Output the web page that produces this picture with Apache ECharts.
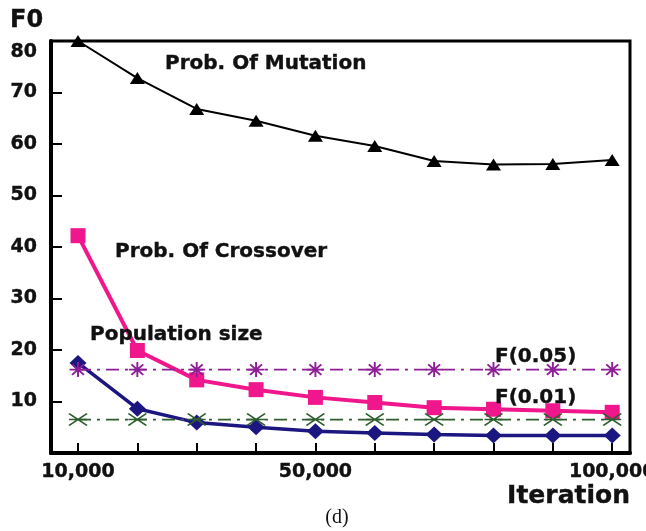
<!DOCTYPE html>
<html>
<head>
<meta charset="utf-8">
<script src="https://cdn.jsdelivr.net/npm/echarts@6/dist/echarts.min.js"></script>
<style>html,body{margin:0;padding:0;background:#fff;}#c{width:646px;height:531px;}</style>
</head>
<body>
<div id="c"></div>
<script>
const iterations = [10000, 20000, 30000, 40000, 50000, 60000, 70000, 80000, 90000, 100000];
const probMutation = [80.0, 72.8, 66.8, 64.5, 61.6, 59.6, 56.7, 56.0, 56.1, 56.9];
const probCrossover = [42.2, 19.9, 14.2, 12.3, 10.8, 9.8, 8.8, 8.5, 8.2, 7.9];
const populationSize = [17.5, 8.6, 5.9, 5.0, 4.2, 3.9, 3.6, 3.4, 3.4, 3.4];
const f005 = [16.2, 16.2, 16.2, 16.2, 16.2, 16.2, 16.2, 16.2, 16.2, 16.2];
const f001 = [6.5, 6.5, 6.5, 6.5, 6.5, 6.5, 6.5, 6.5, 6.5, 6.5];
const xTickValues = [10000, 20000, 30000, 40000, 50000, 60000, 70000, 80000, 90000, 100000];
const xLabelValues = [10000, 50000, 100000];
const yTickValues = [10, 20, 30, 40, 50, 60, 70, 80];

const pair = arr => iterations.map((x, i) => [x, arr[i]]);
const FONT = 'DejaVu Sans';
const txt = (text, x, y, size, extra) => ({
  type: 'text', x, y, z: 100,
  style: Object.assign({ text, font: 'bold ' + size + 'px "DejaVu Sans"', fill: '#111', stroke: '#111', lineWidth: 0.4, verticalAlign: 'middle' }, extra || {})
});

const chart = echarts.init(document.getElementById('c'));
chart.setOption({
  animation: false,
  backgroundColor: '#fff',
  grid: { left: 51, top: 41, right: 16, bottom: 78, outerBoundsMode: 'none', containLabel: false, show: true, borderColor: '#000', borderWidth: 3, backgroundColor: 'transparent' },
  xAxis: {
    type: 'value', min: 5450, max: 103000,
    splitLine: { show: false },
    axisLine: { show: true, lineStyle: { color: '#000', width: 4 } },
    axisTick: { show: true, inside: true, length: 10, lineStyle: { color: '#000', width: 2 }, customValues: xTickValues },
    axisLabel: {
      customValues: xLabelValues, margin: 10, color: '#111', fontFamily: FONT, fontWeight: 'bold', fontSize: 19,
      textBorderColor: '#111', textBorderWidth: 0.4,
      formatter: v => v.toLocaleString('en-US')
    }
  },
  yAxis: {
    type: 'value', min: 0, max: 80, interval: 10,
    splitLine: { show: false },
    axisLine: { show: true, lineStyle: { color: '#000', width: 4 } },
    axisTick: { show: true, inside: true, length: 11, lineStyle: { color: '#000', width: 2 }, customValues: yTickValues },
    axisLabel: {
      customValues: yTickValues, margin: 14, color: '#111', fontFamily: FONT, fontWeight: 'bold', fontSize: 19,
      textBorderColor: '#111', textBorderWidth: 0.4,
      formatter: v => v === 80 ? '{a|80}' : String(v),
      rich: { a: { fontFamily: FONT, fontWeight: 'bold', fontSize: 19, color: '#111', textBorderColor: '#111', textBorderWidth: 0.4, padding: [22, 0, 0, 0] } }
    }
  },
  series: [
    {
      name: 'Population size', type: 'line', data: pair(populationSize),
      symbol: 'diamond', symbolSize: [17, 16],
      lineStyle: { color: '#1c1680', width: 3.5 }, itemStyle: { color: '#1c1680' }
    },
    {
      name: 'Prob. Of Crossover', type: 'line', data: pair(probCrossover),
      symbol: 'rect', symbolSize: 15,
      lineStyle: { color: '#f0168c', width: 4 }, itemStyle: { color: '#f0168c' }
    },
    {
      name: 'Prob. Of Mutation', type: 'line', data: pair(probMutation),
      symbol: 'triangle', symbolSize: [15, 12],
      lineStyle: { color: '#000', width: 2 }, itemStyle: { color: '#000' }
    },
    {
      name: 'F(0.05)', type: 'line', data: pair(f005),
      symbol: 'path://M0,5L10,5M5,0L5,10M1.5,1.5L8.5,8.5M8.5,1.5L1.5,8.5', symbolSize: [17, 15],
      lineStyle: { color: '#8e1e96', width: 1.8, type: [13, 6, 3, 6] },
      itemStyle: { color: 'none', borderColor: '#8e1e96', borderWidth: 1.8 }
    },
    {
      name: 'F(0.01)', type: 'line', data: pair(f001),
      symbol: 'path://M0,0L10,10M10,0L0,10M0,5L10,5', symbolSize: [18, 12],
      lineStyle: { color: '#2e5e2e', width: 1.8, type: [13, 6, 3, 6] },
      itemStyle: { color: 'none', borderColor: '#2e5e2e', borderWidth: 1.6 }
    }
  ],
  graphic: [
    txt('F0', 10, 21, 24),
    txt('Iteration', 630, 496, 25, { align: 'right' }),
    { type: 'text', x: 337, y: 518, style: { text: '(d)', font: '20px "Liberation Serif"', fill: '#111', align: 'center', verticalAlign: 'middle' } },
    txt('Prob. Of Mutation', 165, 64, 20),
    txt('Prob. Of Crossover', 115, 252, 20),
    txt('Population size', 90, 335, 20),
    txt('F(0.05)', 495, 357, 20),
    txt('F(0.01)', 495, 398, 20)
  ]
});
</script>
</body>
</html>
